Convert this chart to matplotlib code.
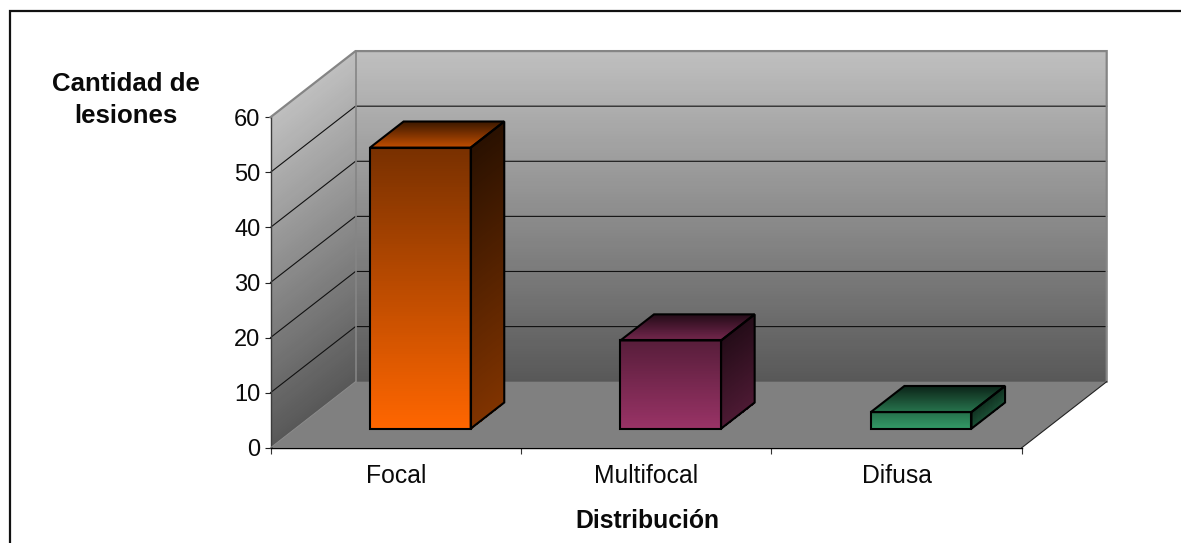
import numpy as np
import matplotlib
matplotlib.use("Agg")
import matplotlib.pyplot as plt
from matplotlib.colors import to_rgb
from matplotlib.lines import Line2D
from matplotlib.patches import Polygon

categories = ["Focal", "Multifocal", "Difusa"]
values = [51, 16, 3]
y_ticks = [0, 10, 20, 30, 40, 50, 60]
y_title = "Cantidad de\nlesiones"
x_title = "Distribución"
bar_colors = ["#ff6600", "#993366", "#339966"]
front_top_shade = [0.47, 0.57, 0.74]
side_top_shade = [0.16, 0.23, 0.30]

W, H = 1181, 543
DEPTH_X = 85 / 250.4   # depth of the box, category units
DEPTH_Y = 12.0         # depth of the box, value units
BAR_W = 0.402
D0, D1 = 0.29, 0.685

plt.rcParams["font.family"] = ["Liberation Sans", "DejaVu Sans"]
fig = plt.figure(figsize=(W / 100, H / 100), dpi=100, facecolor="white")
ax = fig.add_axes([270.5 / W, (H - 447.8) / H, 751.2 / W, 330.6 / H])
ax.patch.set_visible(False)
for s in ax.spines.values():
    s.set_visible(False)


def proj(x, y, d=0.0):
    return x + d * DEPTH_X, y + d * DEPTH_Y


def grad_quad(tl, tr, bl, br, c_top, c_bottom, z, n=120):
    """Quad with a colour ramp running from its top edge to its bottom edge."""
    t = np.linspace(0, 1, n + 1)[:, None]
    xs = np.hstack([tl[0] + (bl[0] - tl[0]) * t, tr[0] + (br[0] - tr[0]) * t])
    ys = np.hstack([tl[1] + (bl[1] - tl[1]) * t, tr[1] + (br[1] - tr[1]) * t])
    m = (t[:-1] + t[1:]) / 2
    rgb = np.array(c_top) + (np.array(c_bottom) - np.array(c_top)) * m
    ax.pcolormesh(xs, ys, rgb[:, None, :], shading="flat", zorder=z,
                  clip_on=False, antialiased=False, edgecolors="none", linewidth=0)


def shade(col, f):
    return tuple(f * v for v in to_rgb(col))


ymax = y_ticks[-1]
n_cat = len(categories)
wall_top = (0.75, 0.75, 0.75)
wall_bot = (0.345, 0.345, 0.345)

# back wall
grad_quad(proj(0, ymax, 1), proj(n_cat, ymax, 1), proj(0, 0, 1), proj(n_cat, 0, 1),
          wall_top, wall_bot, 1)
# side wall
grad_quad(proj(0, ymax, 0), proj(0, ymax, 1), proj(0, 0, 0), proj(0, 0, 1),
          wall_top, wall_bot, 1)
# floor
ax.add_patch(Polygon([proj(0, 0, 0), proj(n_cat, 0, 0), proj(n_cat, 0, 1), proj(0, 0, 1)],
                     closed=True, fc="#808080", ec="none", zorder=2, clip_on=False))

# grid lines on walls
for v in y_ticks[1:-1]:
    p0, p1, p2 = proj(0, v, 0), proj(0, v, 1), proj(n_cat, v, 1)
    ax.plot([p0[0], p1[0], p2[0]], [p0[1], p1[1], p2[1]], color="#111111", lw=0.8,
            zorder=3, clip_on=False, solid_joinstyle="miter")

# box edges
edge = "#858585"
for a, b in [(proj(0, 0, 0), proj(0, ymax, 0)), ]:
    ax.plot([a[0], b[0]], [a[1], b[1]], color="#3c3c3c", lw=1.0, zorder=4, clip_on=False)
outline = [proj(0, ymax, 0), proj(0, ymax, 1), proj(n_cat, ymax, 1), proj(n_cat, 0, 1)]
ax.plot(*zip(*outline), color=edge, lw=1.6, zorder=4, clip_on=False, solid_joinstyle="miter")
a, b = proj(0, 0, 1), proj(0, ymax, 1)
ax.plot([a[0], b[0]], [a[1], b[1]], color=edge, lw=1.2, zorder=4, clip_on=False)
a, b = proj(0, 0, 0), proj(0, 0, 1)
ax.plot([a[0], b[0]], [a[1], b[1]], color="#8c8c8c", lw=0.7, zorder=4, clip_on=False)
a, b = proj(n_cat, 0, 0), proj(n_cat, 0, 1)
ax.plot([a[0], b[0]], [a[1], b[1]], color="#222222", lw=0.8, zorder=4, clip_on=False)
ax.plot([0, n_cat], [0, 0], color="black", lw=1.0, zorder=4, clip_on=False)

# bars
for i, (val, col, ft, st) in enumerate(zip(values, bar_colors, front_top_shade, side_top_shade)):
    xl, xr = i + 0.5 - BAR_W / 2, i + 0.5 + BAR_W / 2
    f_tl, f_tr = proj(xl, val, D0), proj(xr, val, D0)
    f_bl, f_br = proj(xl, 0, D0), proj(xr, 0, D0)
    b_tl, b_tr = proj(xl, val, D1), proj(xr, val, D1)
    b_br = proj(xr, 0, D1)
    grad_quad(f_tl, f_tr, f_bl, f_br, shade(col, ft), shade(col, 1.0), 5)
    grad_quad(f_tr, b_tr, f_br, b_br, shade(col, st), shade(col, 0.5), 5)
    grad_quad(b_tl, b_tr, f_tl, f_tr, shade(col, 0.23), shade(col, 0.76), 5)
    for poly in ([f_tl, f_tr, f_br, f_bl], [f_tr, b_tr, b_br, f_br], [f_tl, b_tl, b_tr, f_tr]):
        ax.add_patch(Polygon(poly, closed=True, fc="none", ec="black", lw=1.5,
                             joinstyle="miter", zorder=6, clip_on=False))

ax.set_xlim(0, n_cat)
ax.set_ylim(0, ymax)

ax.set_yticks(y_ticks)
ax.tick_params(axis="y", length=4.3, width=0.8, color="#222222", pad=3.0, labelsize=17,
               labelcolor="#0a0a0a")
ax.set_xticks(np.arange(n_cat + 1))
ax.set_xticklabels([])
ax.tick_params(axis="x", length=4.3, width=0.8, color="#333333")
ax.set_xticks(np.arange(n_cat) + 0.5, labels=categories, minor=True)
ax.tick_params(axis="x", which="minor", length=0, pad=11.5, labelsize=17.8, labelcolor="#0a0a0a")

fig.text(126 / W, 1 - 100 / H, y_title, ha="center", va="center", fontsize=18.6,
         fontweight="bold", linespacing=1.42, color="#0a0a0a")
fig.text(647 / W, 1 - 521 / H, x_title, ha="center", va="center", fontsize=17.8,
         fontweight="bold", color="#0a0a0a")

# chart frame, cut by the picture at right and bottom
fig.add_artist(Line2D([9.8 / W, 9.8 / W, 1], [0, 1 - 10.5 / H, 1 - 10.5 / H], color="#111111",
                      lw=1.6, solid_joinstyle="miter"))

fig.savefig("out.png", dpi=100)
